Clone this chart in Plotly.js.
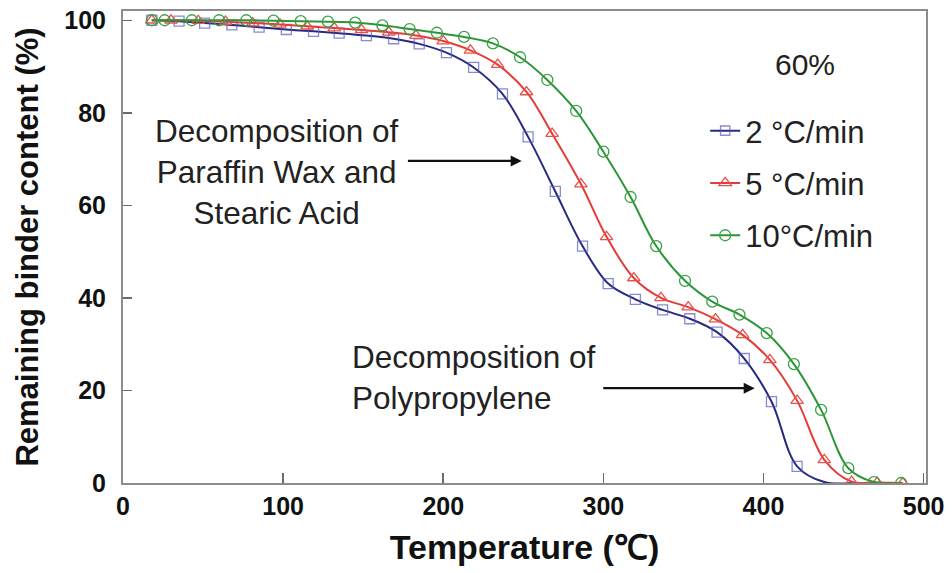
<!DOCTYPE html>
<html>
<head>
<meta charset="utf-8">
<script src="https://cdn.plot.ly/plotly-3.0.1.min.js"></script>
<style>
  html, body { margin: 0; padding: 0; background: #fff; }
  #chart { width: 952px; height: 573px; }
</style>
</head>
<body>
<div id="chart"></div>
<script>
// Thermogravimetric debinding curves, 60% binder, three heating rates
const rateLabels = ['2 °C/min', '5 °C/min', '10°C/min'];

const temp2 = [18, 35, 51, 68, 85, 102, 119, 135, 152, 169, 185, 202, 219, 237, 253, 270, 287, 303, 320, 337, 354, 371, 388, 405, 421, 438, 455];
const binder2 = [100, 99.8, 99.4, 99.0, 98.5, 98.0, 97.6, 97.2, 96.7, 96.0, 94.9, 93.0, 89.8, 84.1, 74.8, 63.0, 51.2, 43.1, 39.7, 37.4, 35.5, 32.6, 26.9, 17.6, 3.6, 0.2, 0];
const marker2 = [1, 1, 1, 1, 1, 1, 1, 1, 1, 1, 1, 1, 1, 1, 1, 1, 1, 1, 1, 1, 1, 1, 1, 1, 1, 0, 0];

const temp5 = [18, 30, 47, 64, 81, 98, 115, 132, 149, 166, 183, 200, 217, 234, 252, 268, 286, 302, 319, 336, 353, 370, 387, 404, 421, 438, 455, 471, 487];
const binder5 = [100, 100, 99.9, 99.7, 99.4, 99.1, 98.7, 98.3, 97.9, 97.4, 96.7, 95.5, 93.5, 90.4, 84.5, 75.5, 64.6, 53.2, 44.3, 40.0, 38.0, 35.4, 32.0, 26.6, 17.8, 5.0, 0.3, 0.1, 0];

const temp10 = [18, 26, 43, 60, 77, 94, 111, 128, 145, 162, 179, 196, 213, 231, 248, 265, 283, 300, 317, 333, 351, 368, 385, 402, 419, 436, 453, 469, 486];
const binder10 = [100, 100, 100, 100, 100, 99.9, 99.8, 99.7, 99.5, 98.9, 98.1, 97.3, 96.4, 95.0, 92.0, 87.1, 80.4, 71.6, 61.8, 51.2, 43.7, 39.2, 36.4, 32.4, 25.7, 15.8, 3.2, 0.2, 0];

const xTicks = [0, 100, 200, 300, 400, 500];
const yTicks = [0, 20, 40, 60, 80, 100];

const sansFont = 'Liberation Sans, Arial, Helvetica, sans-serif';

function curve(x, y, name, lineColor, markerColor, symbol, size, group) {
  return {
    type: 'scatter',
    mode: 'lines+markers',
    x: x, y: y, name: name,
    legendgroup: group,
    line: { color: lineColor, width: 2, shape: 'spline', smoothing: 1 },
    marker: { symbol: symbol, size: size, color: markerColor, line: { width: 1.3, color: markerColor } },
    cliponaxis: true
  };
}

const traces = [
  curve(temp2, binder2, rateLabels[0], '#262a80', '#5a58b8', 'square-open', marker2.map(v => v * 10), 'a'),
  curve(temp5, binder5, rateLabels[1], '#e43c36', '#e8524c', 'triangle-up-open', 11, 'b'),
  curve(temp10, binder10, rateLabels[2], '#2c9637', '#3aa046', 'circle-open', 11, 'c')
];

const layout = {
  width: 952, height: 573,
  margin: { l: 123, r: 26, t: 11, b: 90 },
  paper_bgcolor: '#ffffff', plot_bgcolor: '#ffffff',
  font: { family: sansFont, color: '#1a1a1a' },
  showlegend: true,
  legend: {
    x: 0.725, y: 0.803, xanchor: 'left', yanchor: 'top',
    font: { family: sansFont, size: 31, color: '#222' },
    bgcolor: 'rgba(0,0,0,0)', borderwidth: 0,
    tracegroupgap: 9,
    itemwidth: 30
  },
  xaxis: {
    range: [0, 501.5],
    tickvals: xTicks, ticktext: xTicks.map(String),
    ticks: 'inside', ticklen: 10, tickwidth: 1.5, tickcolor: '#6a6a6a',
    showline: true, mirror: true, linecolor: '#8c8c8c', linewidth: 2,
    showgrid: false, zeroline: false,
    ticklabelstandoff: 0,
    tickfont: { family: sansFont, size: 25, color: '#111', weight: 'bold' },
    title: { text: 'Temperature (℃)', standoff: 16, font: { family: sansFont, size: 34, color: '#111', weight: 'bold' } }
  },
  yaxis: {
    range: [0, 102],
    tickvals: yTicks, ticktext: yTicks.map(String),
    ticks: 'inside', ticklen: 9, tickwidth: 1.5, tickcolor: '#6a6a6a',
    showline: true, mirror: true, linecolor: '#8c8c8c', linewidth: 2,
    showgrid: false, zeroline: false,
    ticklabelstandoff: 10,
    tickfont: { family: sansFont, size: 25, color: '#111', weight: 'bold' },
    title: { text: 'Remaining binder content (%)', standoff: 16, font: { family: sansFont, size: 31, color: '#111', weight: 'bold' } }
  },
  annotations: [
    { xref: 'paper', yref: 'paper', x: 0.849, y: 0.886, xanchor: 'center', yanchor: 'middle',
      text: '60%', showarrow: false, font: { family: sansFont, size: 30, color: '#222' } },
    { xref: 'x', yref: 'y', x: 96, y: 67.2, xanchor: 'center', yanchor: 'middle', align: 'center',
      text: 'Decomposition of<br>Paraffin Wax and<br>Stearic Acid', showarrow: false,
      font: { family: sansFont, size: 31.5, color: '#222' } },
    { xref: 'x', yref: 'y', axref: 'x', ayref: 'y', x: 249, y: 69.6, ax: 177, ay: 69.6,
      text: '', showarrow: true, arrowhead: 2, arrowsize: 1, arrowwidth: 2.2, arrowcolor: '#111' },
    { xref: 'x', yref: 'y', x: 141.7, y: 22.8, xanchor: 'left', yanchor: 'middle', align: 'left',
      text: 'Decomposition of<br>Polypropylene', showarrow: false,
      font: { family: sansFont, size: 31.5, color: '#222' } },
    { xref: 'x', yref: 'y', axref: 'x', ayref: 'y', x: 394.5, y: 20.5, ax: 299, ay: 20.5,
      text: '', showarrow: true, arrowhead: 2, arrowsize: 1, arrowwidth: 2.2, arrowcolor: '#111' }
  ]
};

Plotly.newPlot('chart', traces, layout, { staticPlot: true, displayModeBar: false });
</script>
</body>
</html>
